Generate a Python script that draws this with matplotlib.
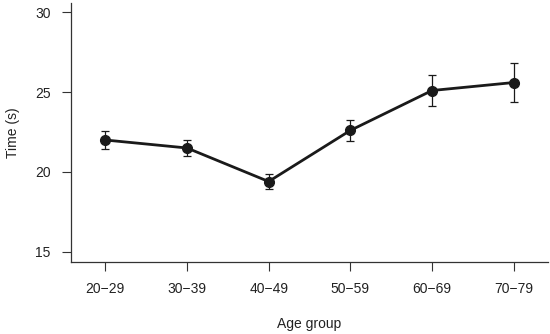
import numpy as np
import matplotlib
matplotlib.use("Agg")
import matplotlib.pyplot as plt

plt.rcParams['font.family'] = ['Liberation Sans', 'DejaVu Sans']

# Data
age_groups = ["20\u221229", "30\u221239", "40\u221249", "50\u221259", "60\u221269", "70\u221279"]
mean_time = [22.0, 21.5, 19.4, 22.6, 25.1, 25.6]
err_time = [0.55, 0.52, 0.45, 0.65, 0.95, 1.2]
y_ticks = [15, 20, 25, 30]

ink = "#1a1a1a"
x = np.arange(len(age_groups))

fig = plt.figure(figsize=(5.5, 3.34), dpi=100)
ax = fig.add_axes([0.129, 0.2156, 0.8674, 0.7754])

ax.errorbar(x, mean_time, yerr=err_time, fmt='none', ecolor=ink,
            elinewidth=0.9, capsize=3, capthick=0.9, zorder=2)
ax.plot(x, mean_time, color=ink, lw=2.0, marker='o', markersize=7, zorder=3)

ax.set_xlim(-0.42, 5.42)
ax.set_ylim(14.36, 30.58)
ax.set_xticks(x)
ax.set_xticklabels(age_groups)
ax.set_yticks(y_ticks)

for s in ["top", "right"]:
    ax.spines[s].set_visible(False)
for s in ["left", "bottom"]:
    ax.spines[s].set_color("#333333")
    ax.spines[s].set_linewidth(0.9)

ax.tick_params(axis='both', direction='out', length=6.5, width=0.8,
               color="#333333", labelsize=10, labelcolor="#222222")
ax.tick_params(axis='y', pad=8)
ax.tick_params(axis='x', pad=8)

ax.set_xlabel("Age group", fontsize=10, color="#222222", labelpad=15)
ax.set_ylabel("Time (s)", fontsize=10, color="#222222", labelpad=11)

fig.savefig("out.png", dpi=100)
